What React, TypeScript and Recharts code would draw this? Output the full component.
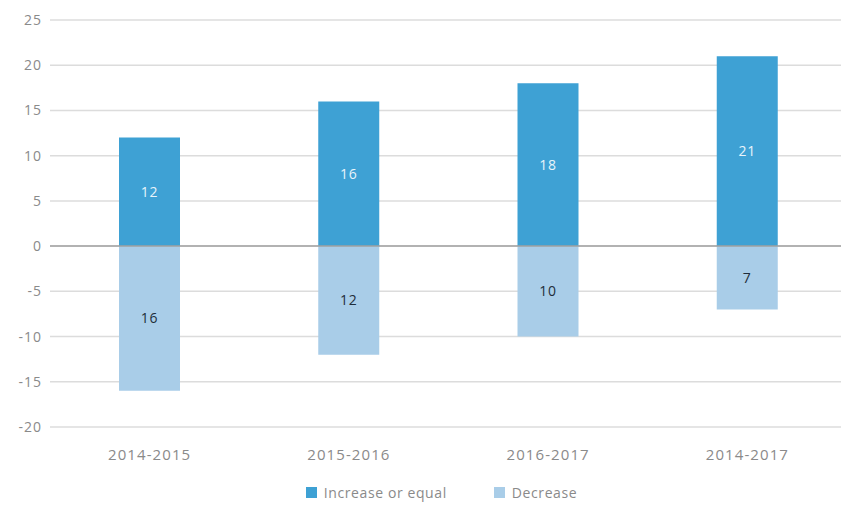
import React from 'react';
import { BarChart, Bar, XAxis, YAxis, CartesianGrid, Legend, ReferenceLine, LabelList } from 'recharts';

const categories = ['2014-2015', '2015-2016', '2016-2017', '2014-2017'];
const increaseValues = [12, 16, 18, 21];
const decreaseValues = [16, 12, 10, 7];
const yTicks = [-20, -15, -10, -5, 0, 5, 10, 15, 20, 25];
const legendItems = [
  { label: 'Increase or equal', color: '#3ea1d4' },
  { label: 'Decrease', color: '#a9cde8' },
];

const data = categories.map((c, i) => ({
  name: c,
  increase: increaseValues[i],
  decrease: -decreaseValues[i],
}));

const FONT = '"Open Sans", "Noto Sans", sans-serif';

const renderLegend = () => (
  <div style={{ display: 'flex', justifyContent: 'center', gap: 47, fontSize: 14, letterSpacing: 0.6, color: '#8a8a8a', fontFamily: FONT, paddingLeft: 36 }}>
    {legendItems.map((it) => (
      <div key={it.label} style={{ display: 'flex', alignItems: 'center' }}>
        <span style={{ display: 'inline-block', width: 11, height: 11, background: it.color, marginRight: 7 }} />
        <span>{it.label}</span>
      </div>
    ))}
  </div>
);

export default function App() {
  return (
    <div style={{ position: 'absolute', left: 0, top: 0, width: 841, height: 506, overflow: 'hidden', background: '#fff' }}>
      <BarChart
        width={860}
        height={506}
        data={data}
        margin={{ top: 20, right: 13, left: 0, bottom: 4 }}
        barSize={61}
        stackOffset="sign"
        style={{ fontFamily: FONT }}
      >
        <CartesianGrid vertical={false} stroke="#dcdcdc" strokeWidth={1.5} />
        <XAxis
          dataKey="name"
          axisLine={false}
          tickLine={false}
          tickMargin={16}
          height={56}
          tick={{ fill: '#8a8a8a', fontSize: 15, letterSpacing: 1.1 }}
        />
        <YAxis
          width={50}
          domain={[-20, 25]}
          ticks={yTicks}
          axisLine={false}
          tickLine={false}
          tick={{ fill: '#8a8a8a', fontSize: 14, letterSpacing: 1 }}
          interval={0}
        />
        <ReferenceLine y={0} stroke="#a0a0a0" strokeWidth={1.5} />
        <Legend verticalAlign="bottom" content={renderLegend} />
        <Bar dataKey="increase" name="Increase or equal" stackId="a" fill="#3ea1d4" isAnimationActive={false}>
          <LabelList dataKey="increase" position="center" fill="#e8f4fb" fontSize={14} letterSpacing={0.8} />
        </Bar>
        <Bar dataKey="decrease" name="Decrease" stackId="a" fill="#a9cde8" isAnimationActive={false}>
          <LabelList
            dataKey="decrease"
            position="center"
            fill="#1f2d3a"
            fontSize={14}
            letterSpacing={0.8}
            formatter={(v: number) => Math.abs(v)}
          />
        </Bar>
      </BarChart>
    </div>
  );
}
